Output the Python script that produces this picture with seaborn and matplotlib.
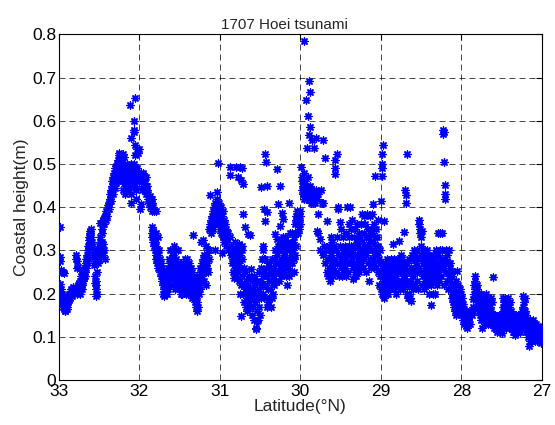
import matplotlib
matplotlib.use("Agg")
import matplotlib.pyplot as plt
import seaborn as sns
import pandas as pd

# ---------------- data: (latitude °N, coastal height m) ----------------
band_33_328 = [(32.99,0.355),(32.99,0.285),(32.985,0.275),(32.98,0.255),(32.97,0.25),(32.95,0.25),(32.94,0.248),
 (32.99,0.222),(32.98,0.21),(32.975,0.2),(32.97,0.19),(32.965,0.185),(32.96,0.18),(32.955,0.175),(32.95,0.17),
 (32.945,0.19),(32.94,0.165),(32.935,0.17),(32.93,0.16),(32.925,0.175),(32.92,0.16),(32.915,0.185),(32.91,0.165),
 (32.905,0.17),(32.9,0.18),(32.895,0.175),(32.89,0.19),(32.885,0.18),(32.88,0.2),(32.875,0.185),(32.87,0.195),
 (32.865,0.2),(32.86,0.19),(32.855,0.205),(32.85,0.2),(32.845,0.21),(32.84,0.195),(32.835,0.205),(32.83,0.21),
 (32.82,0.215),(32.96,0.2),(32.95,0.195),(32.94,0.18),(32.93,0.185),(32.92,0.17),(32.91,0.18),(32.9,0.165)]

band_328_326 = [(32.79,0.28),(32.785,0.29),(32.78,0.275),(32.775,0.26),(32.77,0.262),(32.8,0.205),(32.79,0.21),
 (32.78,0.2),(32.77,0.22),(32.76,0.21),(32.75,0.225),(32.745,0.205),(32.74,0.23),(32.73,0.215),(32.725,0.24),
 (32.72,0.235),(32.715,0.22),(32.71,0.245),(32.705,0.23),(32.7,0.25),(32.695,0.235),(32.69,0.255),(32.685,0.245),
 (32.68,0.26),(32.675,0.25),(32.67,0.27),(32.665,0.26),(32.66,0.28),(32.655,0.27),(32.65,0.29),(32.645,0.3),
 (32.64,0.31),(32.635,0.3),(32.63,0.325),(32.625,0.33),(32.62,0.345),(32.615,0.335),(32.61,0.34),(32.605,0.35),
 (32.6,0.33),(32.595,0.32),(32.59,0.31),(32.74,0.2),(32.72,0.21),(32.71,0.225),(32.69,0.24),(32.68,0.24),
 (32.66,0.265),(32.65,0.275),(32.64,0.285),(32.63,0.31),(32.62,0.32),(32.61,0.33)]

band_326_324 = [(32.57,0.29),(32.565,0.3),(32.56,0.285),(32.56,0.265),(32.555,0.27),(32.55,0.24),(32.55,0.225),
 (32.545,0.21),(32.54,0.195),(32.545,0.23),(32.535,0.22),(32.53,0.2),(32.53,0.25),(32.52,0.27),(32.515,0.29),
 (32.51,0.3),(32.5,0.31),(32.5,0.28),(32.495,0.32),(32.49,0.3),(32.485,0.33),(32.48,0.29),(32.475,0.31),
 (32.47,0.3),(32.465,0.32),(32.46,0.3),(32.455,0.29),(32.45,0.315),(32.44,0.3),(32.43,0.28),(32.49,0.363),
 (32.47,0.34),(32.46,0.35),(32.455,0.36),(32.45,0.37),(32.44,0.36),(32.435,0.375),(32.43,0.38),(32.42,0.37),
 (32.415,0.385),(32.41,0.39),(32.4,0.38),(32.395,0.395),(32.39,0.4),(32.385,0.405),(32.38,0.395)]

band_324_322 = [(32.375,0.41),(32.37,0.42),(32.365,0.43),(32.36,0.415),(32.355,0.44),(32.35,0.43),(32.345,0.45),
 (32.34,0.44),(32.335,0.46),(32.33,0.45),(32.325,0.47),(32.32,0.46),(32.315,0.48),(32.31,0.47),(32.305,0.49),
 (32.3,0.48),(32.295,0.465),(32.29,0.495),(32.285,0.48),(32.28,0.5),(32.275,0.49),(32.27,0.51),(32.265,0.5),
 (32.26,0.52),(32.255,0.505),(32.25,0.525),(32.245,0.49),(32.24,0.47),(32.235,0.51),(32.23,0.52),(32.22,0.5),
 (32.215,0.48),(32.21,0.46),(32.2,0.524),(32.195,0.516),(32.35,0.415),(32.33,0.43),(32.31,0.445),(32.29,0.455),
 (32.27,0.46)]

band_322_320 = [(32.19,0.47),(32.185,0.45),(32.18,0.49),(32.175,0.46),(32.17,0.48),(32.165,0.44),(32.16,0.47),
 (32.155,0.5),(32.15,0.46),(32.145,0.48),(32.14,0.45),(32.135,0.49),(32.13,0.47),(32.125,0.44),(32.12,0.46),
 (32.115,0.48),(32.11,0.5),(32.105,0.47),(32.1,0.43),(32.1,0.409),(32.095,0.46),(32.09,0.49),(32.085,0.47),
 (32.08,0.45),(32.075,0.48),(32.07,0.5),(32.065,0.46),(32.06,0.49),(32.055,0.47),(32.05,0.45),(32.045,0.44),
 (32.04,0.42),(32.12,0.636),(32.05,0.652),(32.07,0.60),(32.065,0.578),(32.07,0.575),(32.1,0.56),(32.05,0.543),
 (32.03,0.535),(32.06,0.52),(32.01,0.535),(32.02,0.525),(32.035,0.49),(32.03,0.47),(32.02,0.48),(32.01,0.46),
 (32.0,0.475),(32.22,0.46),(32.2,0.44),(32.18,0.43)]

band_320_316 = [(31.99,0.396),(31.985,0.408),(31.98,0.47),(31.975,0.48),(31.97,0.46),(31.965,0.44),(31.96,0.475),
 (31.955,0.45),(31.95,0.48),(31.945,0.46),(31.94,0.47),(31.935,0.44),(31.93,0.455),(31.92,0.47),(31.915,0.43),
 (31.91,0.45),(31.9,0.44),(31.895,0.42),(31.89,0.43),(31.88,0.41),(31.875,0.425),(31.87,0.4),(31.86,0.415),
 (31.85,0.42),(31.845,0.39),(31.84,0.41),(31.83,0.4),(31.82,0.39),(31.85,0.355),(31.845,0.34),(31.84,0.33),
 (31.835,0.345),(31.83,0.32),(31.825,0.335),(31.82,0.31),(31.815,0.33),(31.81,0.3),(31.805,0.32),(31.8,0.29),
 (31.8,0.34),(31.795,0.31),(31.79,0.28),(31.79,0.39),(31.785,0.3),(31.78,0.27),(31.775,0.33),(31.77,0.29),
 (31.765,0.26),(31.76,0.3),(31.755,0.27),(31.75,0.25),(31.745,0.28),(31.74,0.26),(31.735,0.24),(31.73,0.27),
 (31.725,0.25),(31.72,0.23),(31.715,0.26),(31.71,0.22),(31.705,0.2),(31.7,0.24),(31.695,0.21),(31.69,0.195),
 (31.685,0.22),(31.68,0.2),(31.675,0.25),(31.67,0.21),(31.665,0.23),(31.66,0.2),(31.655,0.22),(31.65,0.24),
 (31.645,0.21),(31.64,0.26),(31.635,0.23),(31.63,0.28),(31.625,0.25),(31.62,0.3),(31.615,0.27),(31.61,0.22)]

band_316_312 = [(31.6,0.3),(31.6,0.28),(31.595,0.26),(31.59,0.24),(31.585,0.22),(31.58,0.29),(31.575,0.31),
 (31.57,0.27),(31.565,0.25),(31.56,0.23),(31.555,0.21),(31.55,0.3),(31.545,0.28),(31.54,0.26),(31.535,0.24),
 (31.53,0.22),(31.525,0.3),(31.52,0.27),(31.515,0.25),(31.51,0.23),(31.505,0.21),(31.5,0.26),(31.495,0.24),
 (31.49,0.22),(31.485,0.2),(31.48,0.23),(31.475,0.21),(31.47,0.2),(31.465,0.25),(31.46,0.22),(31.455,0.27),
 (31.45,0.24),(31.445,0.21),(31.44,0.28),(31.435,0.26),(31.43,0.23),(31.425,0.2),(31.42,0.27),(31.415,0.25),
 (31.41,0.22),(31.405,0.28),(31.4,0.26),(31.395,0.24),(31.39,0.21),(31.385,0.27),(31.38,0.25),(31.375,0.23),
 (31.37,0.2),(31.365,0.26),(31.36,0.24),(31.355,0.22),(31.35,0.19),(31.345,0.25),(31.34,0.23),(31.335,0.335),
 (31.33,0.21),(31.325,0.24),(31.32,0.2),(31.315,0.22),(31.31,0.18),(31.305,0.2),(31.3,0.17),(31.295,0.19),
 (31.29,0.16),(31.285,0.18),(31.28,0.21),(31.275,0.17),(31.27,0.23),(31.265,0.2),(31.26,0.22),(31.255,0.24),
 (31.25,0.21),(31.245,0.26),(31.24,0.23),(31.235,0.25),(31.23,0.32),(31.225,0.27),(31.22,0.24),(31.215,0.28),
 (31.21,0.325),(31.205,0.26),(31.2,0.29)]

band_312_3085 = [(31.195,0.23),(31.19,0.27),(31.185,0.25),(31.18,0.28),(31.175,0.22),(31.17,0.31),(31.165,0.26),
 (31.16,0.29),(31.155,0.27),(31.15,0.3),(31.145,0.25),(31.14,0.28),(31.135,0.3),(31.13,0.35),(31.125,0.36),
 (31.12,0.427),(31.115,0.37),(31.11,0.35),(31.105,0.34),(31.1,0.36),(31.095,0.38),(31.09,0.37),(31.085,0.35),
 (31.08,0.39),(31.075,0.36),(31.07,0.4),(31.065,0.38),(31.06,0.3),(31.06,0.41),(31.055,0.39),(31.05,0.37),
 (31.045,0.4),(31.04,0.435),(31.035,0.42),(31.03,0.38),(31.025,0.36),(31.02,0.503),(31.015,0.4),(31.01,0.41),
 (31.005,0.39),(31.0,0.37),(30.995,0.35),(30.99,0.4),(30.985,0.34),(30.98,0.295),(30.975,0.38),(30.97,0.36),
 (30.965,0.33),(30.96,0.39),(30.955,0.35),(30.95,0.32),(30.945,0.37),(30.94,0.34),(30.935,0.36),(30.93,0.33),
 (30.925,0.31),(30.92,0.35),(30.915,0.34),(30.91,0.32),(30.9,0.3),(30.895,0.34),(30.89,0.31),(30.88,0.493),
 (30.87,0.475),(30.875,0.33),(30.865,0.29),(30.86,0.31),(30.855,0.27),(30.85,0.3)]

band_3085_306 = [(30.84,0.28),(30.835,0.25),(30.83,0.237),(30.825,0.3),(30.82,0.27),(30.815,0.32),(30.81,0.26),
 (30.805,0.29),(30.8,0.24),(30.795,0.493),(30.79,0.31),(30.785,0.28),(30.78,0.47),(30.775,0.25),(30.77,0.3),
 (30.765,0.27),(30.76,0.23),(30.755,0.29),(30.75,0.493),(30.75,0.198),(30.745,0.26),(30.74,0.148),(30.74,0.462),
 (30.735,0.22),(30.73,0.49),(30.725,0.28),(30.72,0.24),(30.715,0.2),(30.71,0.453),(30.71,0.384),(30.705,0.26),
 (30.7,0.22),(30.695,0.18),(30.69,0.355),(30.685,0.25),(30.68,0.21),(30.675,0.17),(30.67,0.23),(30.665,0.19),
 (30.66,0.16),(30.655,0.338),(30.65,0.22),(30.645,0.2),(30.64,0.18),(30.635,0.24),(30.63,0.335),(30.625,0.21),
 (30.62,0.17),(30.615,0.2),(30.61,0.256),(30.605,0.23),(30.6,0.19),(30.76,0.315),(30.73,0.3),(30.72,0.31)]

band_306_303 = [(30.595,0.15),(30.59,0.21),(30.585,0.17),(30.58,0.24),(30.575,0.2),(30.57,0.14),(30.565,0.22),
 (30.56,0.18),(30.555,0.12),(30.55,0.117),(30.55,0.2),(30.545,0.137),(30.54,0.16),(30.535,0.23),(30.53,0.19),
 (30.525,0.14),(30.52,0.21),(30.515,0.17),(30.51,0.25),(30.505,0.2),(30.5,0.15),(30.495,0.23),(30.49,0.447),
 (30.49,0.19),(30.485,0.26),(30.48,0.22),(30.475,0.28),(30.47,0.24),(30.47,0.31),(30.465,0.3),(30.46,0.2),
 (30.455,0.28),(30.45,0.396),(30.45,0.25),(30.445,0.367),(30.44,0.522),(30.44,0.28),(30.435,0.22),(30.43,0.504),
 (30.43,0.19),(30.425,0.26),(30.42,0.17),(30.415,0.24),(30.41,0.45),(30.41,0.388),(30.405,0.21),(30.4,0.18),
 (30.395,0.27),(30.39,0.23),(30.385,0.19),(30.38,0.25),(30.375,0.21),(30.37,0.17),(30.365,0.26),(30.36,0.23),
 (30.355,0.19),(30.35,0.28),(30.345,0.24),(30.34,0.2),(30.335,0.26),(30.33,0.22),(30.325,0.28),(30.32,0.338),
 (30.315,0.25),(30.31,0.3),(30.305,0.23),(30.3,0.27)]

band_303_300 = [(30.29,0.489),(30.29,0.326),(30.285,0.29),(30.28,0.408),(30.28,0.25),(30.275,0.31),(30.27,0.27),
 (30.265,0.23),(30.26,0.3),(30.255,0.26),(30.25,0.45),(30.25,0.357),(30.245,0.32),(30.24,0.28),(30.235,0.24),
 (30.23,0.386),(30.23,0.3),(30.225,0.27),(30.22,0.33),(30.215,0.25),(30.21,0.373),(30.21,0.322),(30.205,0.29),
 (30.2,0.31),(30.195,0.26),(30.19,0.33),(30.185,0.28),(30.18,0.24),(30.175,0.31),(30.17,0.27),(30.165,0.22),
 (30.16,0.3),(30.155,0.26),(30.15,0.32),(30.145,0.28),(30.14,0.41),(30.14,0.24),(30.135,0.3),(30.13,0.27),
 (30.125,0.34),(30.12,0.31),(30.115,0.25),(30.11,0.29),(30.105,0.34),(30.1,0.27),(30.095,0.32),(30.09,0.3),
 (30.085,0.25),(30.08,0.28),(30.075,0.33),(30.07,0.36),(30.065,0.29),(30.06,0.38),(30.055,0.31),(30.05,0.37),
 (30.045,0.34),(30.04,0.39),(30.035,0.36),(30.03,0.34),(30.025,0.38),(30.02,0.37),(30.015,0.35),(30.01,0.39),
 (30.005,0.36),(30.0,0.38)]

band_300_297 = [(29.99,0.493),(29.985,0.46),(29.98,0.44),(29.975,0.47),(29.97,0.43),(29.965,0.45),(29.96,0.48),
 (29.955,0.42),(29.95,0.784),(29.95,0.44),(29.945,0.46),(29.94,0.43),(29.935,0.45),(29.93,0.648),(29.925,0.42),
 (29.92,0.536),(29.915,0.44),(29.91,0.47),(29.9,0.61),(29.895,0.43),(29.89,0.693),(29.89,0.567),(29.885,0.45),
 (29.88,0.667),(29.88,0.585),(29.875,0.42),(29.87,0.44),(29.865,0.41),(29.86,0.43),(29.855,0.555),(29.85,0.43),
 (29.845,0.41),(29.84,0.42),(29.83,0.538),(29.825,0.43),(29.82,0.41),(29.81,0.44),(29.8,0.56),(29.795,0.42),
 (29.79,0.345),(29.785,0.383),(29.78,0.34),(29.775,0.43),(29.76,0.326),(29.755,0.3),(29.74,0.44),(29.73,0.41),
 (29.72,0.555),(29.72,0.41),(29.715,0.29),(29.7,0.31),(29.69,0.514),(29.69,0.27),(29.68,0.3),(29.67,0.25)]

band_297_294 = [(29.665,0.369),(29.66,0.28),(29.655,0.24),(29.65,0.31),(29.645,0.26),(29.64,0.3),(29.635,0.23),
 (29.63,0.28),(29.625,0.33),(29.62,0.25),(29.615,0.29),(29.61,0.27),(29.605,0.32),(29.6,0.24),(29.595,0.3),
 (29.59,0.26),(29.585,0.28),(29.58,0.31),(29.575,0.508),(29.57,0.49),(29.565,0.477),(29.56,0.25),(29.555,0.3),
 (29.55,0.27),(29.545,0.524),(29.54,0.33),(29.535,0.4),(29.53,0.395),(29.525,0.24),(29.52,0.29),(29.515,0.27),
 (29.51,0.365),(29.505,0.31),(29.5,0.26),(29.495,0.29),(29.49,0.35),(29.485,0.28),(29.48,0.24),(29.475,0.3),
 (29.47,0.27),(29.465,0.33),(29.46,0.25),(29.455,0.29),(29.45,0.31),(29.445,0.26),(29.44,0.28),(29.435,0.34),
 (29.43,0.24),(29.425,0.3),(29.42,0.27),(29.415,0.4),(29.41,0.29),(29.405,0.25),(29.4,0.31)]

band_294_290 = [(29.395,0.36),(29.39,0.33),(29.385,0.29),(29.38,0.4),(29.375,0.27),(29.37,0.35),(29.365,0.31),
 (29.36,0.28),(29.355,0.37),(29.35,0.233),(29.345,0.3),(29.34,0.26),(29.335,0.33),(29.33,0.29),(29.325,0.25),
 (29.32,0.35),(29.315,0.31),(29.31,0.27),(29.305,0.24),(29.3,0.32),(29.295,0.29),(29.29,0.36),(29.285,0.26),
 (29.28,0.31),(29.275,0.28),(29.27,0.34),(29.265,0.25),(29.26,0.3),(29.255,0.33),(29.25,0.27),(29.245,0.36),
 (29.24,0.29),(29.235,0.385),(29.23,0.32),(29.225,0.26),(29.22,0.3),(29.215,0.38),(29.21,0.34),(29.205,0.28),
 (29.2,0.31),(29.195,0.36),(29.19,0.25),(29.185,0.33),(29.18,0.29),(29.175,0.385),(29.17,0.31),(29.165,0.27),
 (29.16,0.35),(29.155,0.3),(29.15,0.23),(29.145,0.33),(29.14,0.28),(29.135,0.38),(29.13,0.32),(29.125,0.26),
 (29.12,0.35),(29.115,0.3),(29.11,0.385),(29.105,0.34),(29.1,0.408),(29.1,0.28),(29.095,0.32),(29.09,0.36),
 (29.085,0.3),(29.08,0.27),(29.075,0.33),(29.07,0.471),(29.07,0.29),(29.065,0.35),(29.06,0.31),(29.055,0.26),
 (29.05,0.33),(29.045,0.29),(29.04,0.37),(29.035,0.31),(29.03,0.25),(29.025,0.28),(29.02,0.22),(29.015,0.3),
 (29.01,0.24),(29.005,0.27),(29.0,0.415),(29.0,0.21)]

band_290_2856 = [(28.99,0.472),(28.98,0.49),(28.98,0.5),(28.985,0.524),(28.97,0.543),(28.96,0.369),(28.995,0.25),
 (28.99,0.22),(28.985,0.2),(28.98,0.24),(28.975,0.26),(28.97,0.21),(28.965,0.23),(28.96,0.19),(28.955,0.25),
 (28.95,0.22),(28.945,0.27),(28.94,0.2),(28.935,0.24),(28.93,0.26),(28.925,0.21),(28.92,0.28),(28.915,0.23),
 (28.91,0.25),(28.905,0.2),(28.9,0.27),(28.895,0.22),(28.89,0.24),(28.885,0.26),(28.88,0.21),(28.875,0.28),
 (28.87,0.23),(28.865,0.25),(28.86,0.27),(28.855,0.22),(28.85,0.315),(28.845,0.24),(28.84,0.26),(28.835,0.21),
 (28.83,0.28),(28.825,0.23),(28.82,0.25),(28.815,0.27),(28.81,0.2),(28.805,0.24),(28.8,0.26),(28.795,0.22),
 (28.79,0.28),(28.785,0.25),(28.78,0.23),(28.775,0.322),(28.77,0.27),(28.765,0.21),(28.76,0.25),(28.755,0.29),
 (28.75,0.23),(28.745,0.26),(28.74,0.28),(28.735,0.22),(28.73,0.25),(28.725,0.27),(28.72,0.21),(28.715,0.342),
 (28.71,0.24),(28.705,0.26),(28.7,0.22),(28.695,0.44),(28.69,0.427),(28.69,0.25),(28.685,0.41),(28.68,0.524),
 (28.68,0.2),(28.675,0.23),(28.67,0.27),(28.665,0.19),(28.66,0.22),(28.655,0.25),(28.65,0.2),(28.645,0.28),
 (28.64,0.23),(28.635,0.19),(28.63,0.183),(28.625,0.26),(28.62,0.22),(28.615,0.29),(28.61,0.25),(28.605,0.21),
 (28.6,0.28),(28.595,0.24),(28.59,0.3),(28.585,0.26),(28.58,0.22),(28.575,0.29),(28.57,0.25)]

band_2856_2815 = [(28.56,0.27),(28.555,0.23),(28.55,0.3),(28.545,0.25),(28.54,0.21),(28.535,0.28),(28.53,0.26),
 (28.525,0.37),(28.52,0.36),(28.515,0.35),(28.51,0.34),(28.505,0.29),(28.5,0.33),(28.5,0.25),(28.495,0.31),
 (28.49,0.22),(28.485,0.345),(28.48,0.27),(28.475,0.3),(28.47,0.24),(28.465,0.28),(28.46,0.21),(28.455,0.26),
 (28.45,0.29),(28.445,0.23),(28.44,0.27),(28.435,0.25),(28.43,0.3),(28.425,0.22),(28.42,0.28),(28.415,0.24),
 (28.41,0.26),(28.405,0.2),(28.4,0.29),(28.395,0.23),(28.39,0.27),(28.385,0.25),(28.38,0.174),(28.375,0.28),
 (28.37,0.22),(28.365,0.26),(28.36,0.24),(28.355,0.2),(28.35,0.29),(28.345,0.27),(28.34,0.23),(28.335,0.25),
 (28.33,0.28),(28.325,0.2),(28.32,0.26),(28.315,0.3),(28.31,0.24),(28.305,0.27),(28.3,0.22),(28.295,0.34),
 (28.29,0.29),(28.285,0.25),(28.28,0.27),(28.275,0.23),(28.27,0.3),(28.265,0.26),(28.26,0.34),(28.255,0.28),
 (28.25,0.24),(28.245,0.27),(28.24,0.3),(28.235,0.34),(28.23,0.578),(28.225,0.57),(28.225,0.26),(28.22,0.575),
 (28.215,0.22),(28.21,0.505),(28.205,0.28),(28.2,0.452),(28.2,0.43),(28.2,0.42),(28.195,0.25),(28.19,0.3),
 (28.185,0.27),(28.18,0.23),(28.175,0.29),(28.17,0.25),(28.165,0.21),(28.16,0.27),(28.155,0.24)]

band_2815_278 = [(28.15,0.3),(28.145,0.27),(28.14,0.23),(28.135,0.26),(28.13,0.21),(28.125,0.25),(28.12,0.2),
 (28.115,0.24),(28.11,0.19),(28.105,0.22),(28.1,0.18),(28.095,0.21),(28.09,0.17),(28.085,0.2),(28.08,0.16),
 (28.075,0.19),(28.07,0.23),(28.065,0.18),(28.06,0.15),(28.055,0.2),(28.05,0.253),(28.05,0.17),(28.045,0.19),
 (28.04,0.22),(28.035,0.16),(28.03,0.2),(28.025,0.18),(28.02,0.21),(28.015,0.17),(28.01,0.19),(28.005,0.15),
 (28.0,0.2),(27.995,0.17),(27.99,0.19),(27.985,0.16),(27.98,0.175),(27.975,0.14),(27.97,0.165),(27.965,0.15),
 (27.96,0.13),(27.955,0.16),(27.95,0.14),(27.945,0.125),(27.94,0.155),(27.935,0.135),(27.93,0.12),(27.925,0.15),
 (27.92,0.14),(27.915,0.13),(27.91,0.155),(27.9,0.145),(27.89,0.13),(27.88,0.16),(27.87,0.15),(27.86,0.17),
 (27.855,0.187),(27.85,0.16),(27.845,0.2),(27.84,0.22),(27.835,0.24),(27.83,0.21),(27.825,0.23),(27.82,0.2),
 (27.815,0.19),(27.81,0.22),(27.805,0.18),(27.8,0.21)]

band_278_274 = [(27.795,0.19),(27.79,0.17),(27.785,0.2),(27.78,0.16),(27.775,0.18),(27.77,0.15),(27.765,0.19),
 (27.76,0.14),(27.755,0.17),(27.75,0.2),(27.745,0.15),(27.74,0.121),(27.735,0.18),(27.73,0.16),(27.725,0.14),
 (27.72,0.19),(27.715,0.17),(27.71,0.15),(27.705,0.13),(27.7,0.18),(27.695,0.16),(27.69,0.2),(27.685,0.14),
 (27.68,0.17),(27.675,0.15),(27.67,0.19),(27.665,0.13),(27.66,0.16),(27.655,0.18),(27.65,0.14),(27.645,0.17),
 (27.64,0.15),(27.635,0.19),(27.63,0.13),(27.625,0.16),(27.62,0.14),(27.615,0.18),(27.61,0.15),(27.605,0.239),
 (27.6,0.13),(27.595,0.15),(27.59,0.12),(27.585,0.14),(27.58,0.13),(27.575,0.15),(27.57,0.12),(27.565,0.14),
 (27.56,0.13),(27.555,0.11),(27.55,0.145),(27.545,0.12),(27.54,0.135),(27.535,0.15),(27.53,0.12),(27.525,0.14),
 (27.52,0.13),(27.515,0.11),(27.51,0.15),(27.505,0.12),(27.5,0.14),(27.495,0.109),(27.49,0.13),(27.485,0.15),
 (27.48,0.17),(27.475,0.19),(27.47,0.18),(27.465,0.16),(27.46,0.19),(27.455,0.14),(27.45,0.17),(27.445,0.12),
 (27.44,0.15),(27.435,0.18),(27.43,0.13),(27.425,0.16),(27.42,0.19),(27.415,0.14),(27.41,0.17),(27.405,0.12),
 (27.4,0.15)]

band_274_270 = [(27.395,0.18),(27.39,0.13),(27.385,0.16),(27.38,0.14),(27.375,0.12),(27.37,0.15),(27.365,0.13),
 (27.36,0.11),(27.355,0.14),(27.35,0.12),(27.345,0.15),(27.34,0.13),(27.335,0.105),(27.33,0.14),(27.325,0.12),
 (27.32,0.15),(27.315,0.11),(27.31,0.13),(27.305,0.12),(27.3,0.14),(27.295,0.11),(27.29,0.13),(27.285,0.15),
 (27.28,0.12),(27.275,0.14),(27.27,0.11),(27.265,0.13),(27.26,0.15),(27.255,0.12),(27.25,0.14),(27.245,0.16),
 (27.24,0.13),(27.235,0.17),(27.23,0.195),(27.225,0.16),(27.22,0.145),(27.215,0.18),(27.21,0.16),(27.205,0.19),
 (27.2,0.13),(27.195,0.15),(27.19,0.11),(27.185,0.14),(27.18,0.12),(27.175,0.1),(27.17,0.13),(27.165,0.11),
 (27.16,0.078),(27.155,0.12),(27.15,0.09),(27.145,0.14),(27.14,0.11),(27.135,0.13),(27.13,0.1),(27.125,0.12),
 (27.12,0.09),(27.115,0.13),(27.11,0.11),(27.105,0.14),(27.1,0.1),(27.095,0.12),(27.09,0.13),(27.085,0.11),
 (27.08,0.09),(27.075,0.12),(27.07,0.1),(27.065,0.13),(27.06,0.115),(27.055,0.09),(27.05,0.12),(27.045,0.105),
 (27.04,0.125),(27.035,0.1),(27.03,0.115),(27.025,0.09),(27.02,0.12),(27.015,0.105),(27.01,0.086),(27.005,0.12),
 (27.0,0.11)]

bands = [band_33_328, band_328_326, band_326_324, band_324_322, band_322_320, band_320_316,
         band_316_312, band_312_3085, band_3085_306, band_306_303, band_303_300, band_300_297,
         band_297_294, band_294_290, band_290_2856, band_2856_2815, band_2815_278, band_278_274,
         band_274_270]

x_ticks = [33, 32, 31, 30, 29, 28, 27]
y_ticks = [0, 0.1, 0.2, 0.3, 0.4, 0.5, 0.6, 0.7, 0.8]
y_tick_labels = ["0", "0.1", "0.2", "0.3", "0.4", "0.5", "0.6", "0.7", "0.8"]
title_text = "1707 Hoei tsunami"
x_label = "Latitude(°N)"
y_label = "Coastal height(m)"

# ---------------- plot ----------------
rows = [pt for band in bands for pt in band]
df = pd.DataFrame(rows, columns=["lat", "height"])

sns.set_style("white")
plt.rcParams["font.family"] = ["Liberation Sans", "DejaVu Sans"]
plt.rcParams["lines.scale_dashes"] = False

fig = plt.figure(figsize=(5.55, 4.25), dpi=100)
ax = fig.add_axes([59 / 555, 45 / 425, (541.7 - 59) / 555, (380 - 34.3) / 425])

sns.scatterplot(data=df, x="lat", y="height", ax=ax, marker=(8, 2, 0), s=26,
                color="#0000ff", linewidth=1.0, legend=False, zorder=3)

ax.set_xlim(33, 27)
ax.set_ylim(0, 0.8)
ax.set_xticks(x_ticks)
ax.set_xticklabels([str(t) for t in x_ticks])
ax.set_yticks(y_ticks)
ax.set_yticklabels(y_tick_labels)

ax.grid(True, color="black", linestyle=(0, (4.3, 2.9)), linewidth=0.6, alpha=0.85)
ax.set_axisbelow(True)
for sp in ax.spines.values():
    sp.set_color("black")
    sp.set_linewidth(0.8)
ax.tick_params(direction="in", top=True, right=True, length=4, width=0.8,
               labelsize=12.5, colors="black", pad=2)
ax.tick_params(axis="x", pad=3)

ax.set_xlabel(x_label, fontsize=12.5, labelpad=0)
ax.set_ylabel(y_label, fontsize=12.5, labelpad=2)
ax.set_title(title_text, fontsize=11, pad=4, x=0.468)

fig.savefig("out.png", dpi=100, facecolor="white")
